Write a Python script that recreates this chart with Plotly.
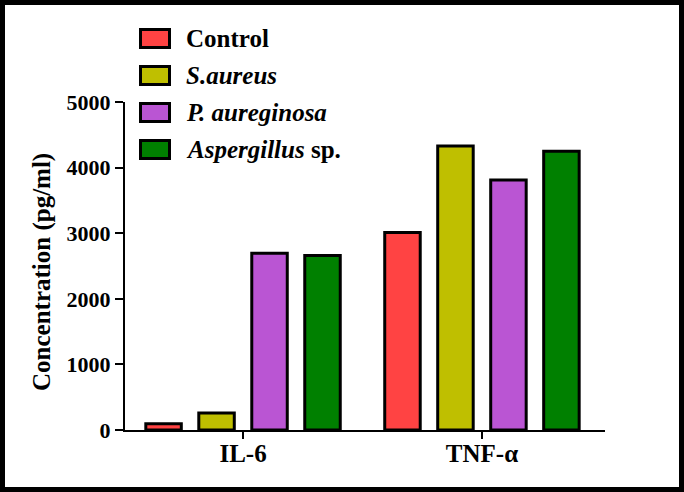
import plotly.graph_objects as go

# Data
categories = ['IL-6', 'TNF-\u03b1']
series_names = ['Control', '<i>S.aureus</i>', '<i>P. aureginosa</i>', '<i>Aspergillus</i> sp.']
control = [95, 3010]
s_aureus = [260, 4330]
p_aureginosa = [2695, 3810]
aspergillus = [2660, 4250]
colors = ['#FF4343', '#BFBF00', '#BA55D3', '#008000']
y_ticks = [0, 1000, 2000, 3000, 4000, 5000]

W, H = 684, 492
# plot area in pixels
L, R, T, B = 125, 605, 102, 430

FONT = 'Liberation Serif'


def px_x(x):
    return (x - L) / (R - L)


def px_y(y):
    return (B - y) / (B - T)


fig = go.Figure()
values = [control, s_aureus, p_aureginosa, aspergillus]
for name, vals, col in zip(series_names, values, colors):
    fig.add_trace(go.Bar(x=categories, y=vals, name=name,
                         marker=dict(color=col, line=dict(color='black', width=3)),
                         showlegend=False))

fig.update_layout(width=W, height=H,
                  margin=dict(l=L, r=W - R, t=T, b=H - B, autoexpand=False),
                  paper_bgcolor='white', plot_bgcolor='white',
                  barmode='group', bargap=0.113, bargroupgap=0.33,
                  font=dict(family=FONT, color='black'))

fig.update_xaxes(range=[-0.494, 1.515], showline=True, linecolor='black', linewidth=2,
                 ticks='outside', ticklen=7, tickwidth=2, tickcolor='black',
                 showgrid=False, zeroline=False, ticklabelstandoff=-7,
                 tickfont=dict(family=FONT, size=25, weight='bold', color='black'))
fig.update_yaxes(range=[0, 5000], tickvals=y_ticks, showline=True, linecolor='black', linewidth=2,
                 ticks='outside', ticklen=8, tickwidth=2, tickcolor='black',
                 showgrid=False, zeroline=False,
                 tickfont=dict(family=FONT, size=22, weight='bold', color='black'))

# y axis title
fig.add_annotation(text='<b>Concentration (pg/ml)</b>', textangle=-90,
                   xref='paper', yref='paper', x=px_x(42), y=px_y(272),
                   xanchor='center', yanchor='middle',
                   showarrow=False, font=dict(family=FONT, size=25, color='black'))

# hand-drawn legend (big boxes like the original)
row_y = [38.5, 75.5, 112.5, 149.5]
for name, col, cy in zip(series_names, colors, row_y):
    fig.add_shape(type='rect', xref='paper', yref='paper',
                  x0=px_x(140.5), x1=px_x(169.5), y0=px_y(cy - 9), y1=px_y(cy + 9),
                  fillcolor=col, line=dict(color='black', width=3))
    fig.add_annotation(text='<b>' + name + '</b>', xref='paper', yref='paper',
                       x=px_x(184), y=px_y(cy), xanchor='left', yanchor='middle',
                       showarrow=False, font=dict(family=FONT, size=25, color='black'))

# black frame around the picture
fig.add_shape(type='rect', xref='paper', yref='paper',
              x0=px_x(2.5), x1=px_x(W - 2.5), y0=px_y(H - 2.5), y1=px_y(2.5),
              line=dict(color='black', width=5), layer='above')

fig.write_html('out.html', config={'displayModeBar': False},
               post_script="document.body.style.margin='0';document.body.style.overflow='hidden';")
